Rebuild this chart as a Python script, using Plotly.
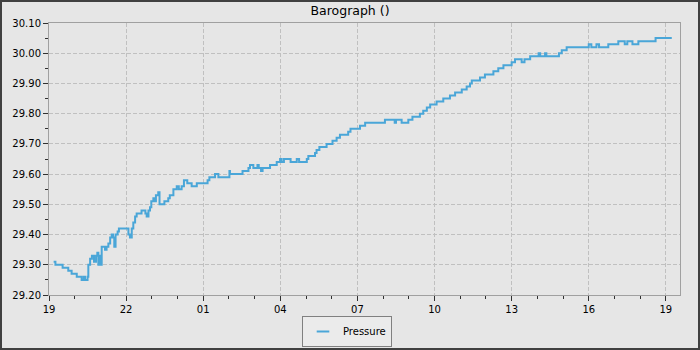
import pandas as pd
import plotly.graph_objects as go

# hours after 19:00 on day 1
hours = [0.18, 0.25, 0.53, 0.75, 0.88, 1.08, 1.27, 1.35, 1.40, 1.50,
         1.53, 1.60, 1.67, 1.75, 1.83, 1.88, 1.92, 1.96, 2.00, 2.05,
         2.12, 2.18, 2.24, 2.31, 2.38, 2.44, 2.49, 2.54, 2.59, 2.67,
         2.72, 3.07, 3.09, 3.15, 3.22, 3.28, 3.35, 3.41, 3.55, 3.60,
         3.75, 3.80, 3.87, 3.93, 3.98, 4.06, 4.10, 4.16, 4.25, 4.30,
         4.49, 4.64, 4.70, 4.84, 4.97, 5.05, 5.16, 5.25, 5.38, 5.55,
         5.75, 6.17, 6.24, 6.46, 6.59, 7.02, 7.04, 7.53, 7.76, 7.82,
         7.95, 8.11, 8.16, 8.25, 8.31, 8.60, 8.86, 8.99, 9.05, 9.14,
         9.40, 9.64, 9.73, 10.03, 10.09, 10.35, 10.41, 10.52, 10.80, 11.03,
         11.19, 11.32, 11.64, 11.73, 12.10, 12.30, 13.07, 13.45, 13.50, 13.72,
         13.98, 14.14, 14.43, 14.56, 14.70, 14.83, 15.08, 15.34, 15.60, 15.80,
         16.06, 16.25, 16.38, 16.45, 16.77, 16.96, 17.29, 17.48, 17.68, 18.00,
         18.13, 18.39, 18.50, 18.72, 19.05, 19.11, 19.30, 19.35, 19.84, 19.95,
         20.14, 21.00, 21.10, 21.30, 21.40, 21.76, 22.15, 22.40, 22.50, 22.70,
         22.93, 23.60, 24.23]
pressure = [29.31, 29.30, 29.29, 29.28, 29.27, 29.26, 29.25, 29.26, 29.25, 29.26,
            29.30, 29.32, 29.33, 29.31, 29.33, 29.34, 29.30, 29.33, 29.30, 29.36,
            29.36, 29.35, 29.36, 29.37, 29.39, 29.40, 29.39, 29.36, 29.40, 29.41,
            29.42, 29.42, 29.40, 29.39, 29.42, 29.44, 29.46, 29.47, 29.47, 29.48,
            29.47, 29.46, 29.48, 29.49, 29.51, 29.52, 29.51, 29.53, 29.54, 29.50,
            29.51, 29.52, 29.53, 29.55, 29.56, 29.55, 29.56, 29.58, 29.57, 29.56,
            29.57, 29.58, 29.59, 29.60, 29.59, 29.61, 29.60, 29.61, 29.62, 29.63,
            29.62, 29.63, 29.62, 29.61, 29.62, 29.63, 29.64, 29.65, 29.64, 29.65,
            29.64, 29.65, 29.64, 29.65, 29.66, 29.67, 29.68, 29.69, 29.70, 29.71,
            29.72, 29.73, 29.74, 29.75, 29.76, 29.77, 29.78, 29.77, 29.78, 29.77,
            29.78, 29.79, 29.80, 29.81, 29.82, 29.83, 29.84, 29.85, 29.86, 29.87,
            29.88, 29.89, 29.90, 29.91, 29.92, 29.93, 29.94, 29.95, 29.96, 29.97,
            29.98, 29.97, 29.98, 29.99, 30.00, 29.99, 30.00, 29.99, 30.00, 30.01,
            30.02, 30.03, 30.02, 30.03, 30.02, 30.03, 30.04, 30.03, 30.04, 30.03,
            30.04, 30.05, 30.05]

series_name = "Pressure"
title_text = "Barograph ()"
start_time = "2024-01-01 19:00"
end_time = "2024-01-02 19:33"

base = pd.Timestamp(start_time)
times = [base + pd.Timedelta(hours=h) for h in hours]

LINE_COLOR = "#4aa6d8"
BG = "#e6e6e6"

fig = go.Figure()
fig.add_trace(go.Scatter(x=times, y=pressure, mode="lines",
                         line=dict(color=LINE_COLOR, width=2, shape="hv"),
                         showlegend=False, name=series_name))
fig.add_trace(go.Scatter(x=[None], y=[None], mode="markers", name=series_name,
                         marker=dict(symbol="line-ew-open", size=9, color=LINE_COLOR,
                                     line=dict(color=LINE_COLOR, width=2)),
                         showlegend=True))

W, H = 700, 350
L, R, T, B = 49, 20, 23, 55
pw, ph = W - L - R, H - T - B

fig.update_layout(
    width=W, height=H,
    margin=dict(l=L, r=R, t=T, b=B, autoexpand=False),
    paper_bgcolor=BG, plot_bgcolor=BG,
    font=dict(family="DejaVu Sans", size=10, color="#000000"),
    title=dict(text=title_text, x=0.5, xanchor="center", y=1 - 11 / H,
               yanchor="middle", font=dict(size=12.5, family="DejaVu Sans")),
    legend=dict(orientation="h", x=(347 - L) / pw, xanchor="center",
                y=(295 - 347) / ph, yanchor="bottom",
                bgcolor="#ebebeb", bordercolor="#808080", borderwidth=1,
                font=dict(size=10), itemwidth=30),
    xaxis=dict(type="date", range=[start_time, end_time],
               tick0=start_time, dtick=3 * 3600 * 1000, tickformat="%H",
               ticks="outside", ticklen=5, tickcolor="#303030",
               showline=True, linecolor="#a0a0a0", linewidth=1, mirror=True,
               showgrid=True, gridcolor="#c0c0c0", griddash="4px,2px", gridwidth=1,
               zeroline=False,
               minor=dict(dtick=3600 * 1000, ticks="outside", ticklen=3,
                          tickcolor="#303030", showgrid=False)),
    yaxis=dict(range=[29.2, 30.1], dtick=0.1, tick0=29.2, tickformat=".2f",
               ticks="outside", ticklen=5, tickcolor="#303030",
               showline=True, linecolor="#a0a0a0", linewidth=1, mirror=True,
               showgrid=True, gridcolor="#c0c0c0", griddash="4px,2px", gridwidth=1,
               zeroline=False,
               minor=dict(dtick=0.05, ticks="outside", ticklen=3,
                          tickcolor="#303030", showgrid=False)),
    shapes=[dict(type="rect", xref="paper", yref="paper",
                 x0=(1 - L) / pw, x1=(W - 1 - L) / pw,
                 y0=(H - B - (H - 1)) / ph, y1=(H - B - 1) / ph,
                 line=dict(color="#404040", width=2), fillcolor="rgba(0,0,0,0)",
                 layer="above")],
)

fig.write_html("out.html")
